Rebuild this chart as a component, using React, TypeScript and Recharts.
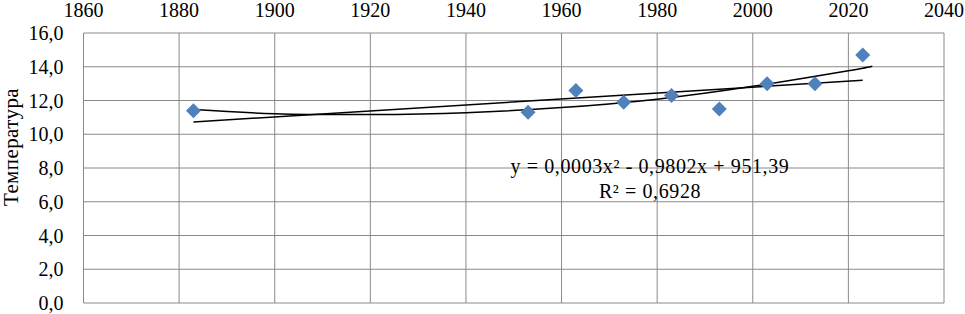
import React from 'react'
import {
  ComposedChart, Scatter, Line, XAxis, YAxis, CartesianGrid,
} from 'recharts'

// measured points: year of observation and mean temperature
const YEARS = [1883, 1953, 1963, 1973, 1983, 1993, 2003, 2013, 2023]
const TEMPS = [11.4, 11.3, 12.6, 11.9, 12.3, 11.5, 13.0, 13.0, 14.7]

// trendlines
const LIN_YEARS = [1883, 2023]
const LIN_VALUES = [10.73, 13.2]
const POLY_YEARS = [1883, 1900, 1920, 1940, 1960, 1980, 2000, 2020, 2025]
const POLY_VALUES = [11.46, 11.22, 11.17, 11.28, 11.58, 12.08, 12.84, 13.76, 14.03]

const X_TICKS = [1860, 1880, 1900, 1920, 1940, 1960, 1980, 2000, 2020, 2040]
const Y_TICKS = [0, 2, 4, 6, 8, 10, 12, 14, 16]

const EQUATION = 'y = 0,0003x² - 0,9802x + 951,39'
const R2 = 'R² = 0,6928'
const Y_TITLE = 'Температура'

const FONT = "'Times New Roman', 'Liberation Serif', 'DejaVu Serif', serif"
const BLUE = '#4F81BD'
const GRID = '#8a8a8a'

const points = YEARS.map((year, i) => ({ year, t: TEMPS[i] }))
const linear = LIN_YEARS.map((year, i) => ({ year, t: LIN_VALUES[i] }))
const poly = POLY_YEARS.map((year, i) => ({ year, t: POLY_VALUES[i] }))

const fmt = (v: number) => v.toFixed(1).replace('.', ',')

function Diamond({ cx, cy }: any) {
  const r = 7.5
  return <polygon points={`${cx},${cy - r} ${cx + r},${cy} ${cx},${cy + r} ${cx - r},${cy}`} fill={BLUE} />
}

// axis title sits a little above the plot's middle, as in the original
function YTitle({ viewBox }: any) {
  const y = viewBox.y + viewBox.height / 2 - 21
  return (
    <text x={17.5} y={y} transform={`rotate(-90, 17.5, ${y})`} textAnchor="middle" fontSize={21} fill="#000" style={{ fontFamily: FONT, letterSpacing: 0.4 }}>
      {Y_TITLE}
    </text>
  )
}

export default function App() {
  const tick = { fontSize: 20, fill: '#000', style: { fontFamily: FONT } }
  const note = { position: 'absolute' as const, transform: 'translate(-50%, -50%)', fontSize: 20, whiteSpace: 'nowrap' as const, lineHeight: 1, letterSpacing: 0.6 }
  return (
    <div style={{ position: 'absolute', left: 0, top: 0, width: 965, height: 314, background: '#fff', fontFamily: FONT }}>
      <ComposedChart width={965} height={314} margin={{ top: 0, right: 21, bottom: 11, left: 0 }} style={{ fontFamily: FONT }}>
        <CartesianGrid stroke={GRID} strokeWidth={1} horizontalValues={Y_TICKS} verticalValues={X_TICKS} />
        <XAxis
          type="number" dataKey="year" orientation="top" domain={[1860, 2040]} ticks={X_TICKS} interval={0}
          height={33} tickSize={0} tickMargin={16} axisLine={false} tick={tick} allowDataOverflow
        />
        <YAxis
          type="number" dataKey="t" domain={[0, 16]} ticks={Y_TICKS} interval={0} width={83.5}
          tickSize={0} tickMargin={20} axisLine={false} tick={tick} tickFormatter={fmt}
          label={{ content: <YTitle /> }}
        />
        <Line data={linear} dataKey="t" stroke="#000" strokeWidth={1.5} dot={false} activeDot={false} isAnimationActive={false} />
        <Line data={poly} dataKey="t" type="natural" stroke="#000" strokeWidth={1.5} dot={false} activeDot={false} isAnimationActive={false} />
        <Scatter data={points} dataKey="t" fill={BLUE} shape={<Diamond />} isAnimationActive={false} />
      </ComposedChart>
      <div style={{ ...note, left: 650, top: 166 }}>{EQUATION}</div>
      <div style={{ ...note, left: 650, top: 191 }}>{R2}</div>
    </div>
  )
}
